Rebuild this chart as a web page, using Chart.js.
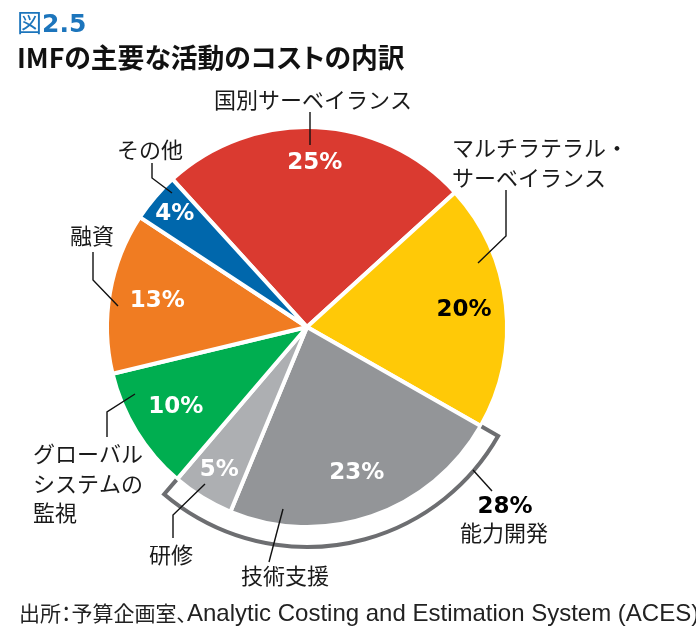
<!DOCTYPE html>
<html>
<head>
<meta charset="utf-8">
<script src="https://cdn.jsdelivr.net/npm/chart.js@4.4.1/dist/chart.umd.min.js"></script>
<style>
  body { margin: 0; background: #fff; width: 696px; height: 631px; overflow: hidden; position: relative; font-family: "Noto Sans CJK JP", sans-serif; }
  #wrap { position: absolute; left: 0; top: 0; width: 696px; height: 631px; }
  .fig { position: absolute; left: 17px; top: 8px; font-size: 25px; line-height: 26px; color: #1c75bc; white-space: nowrap; }
  .fig b { font-family: "DejaVu Sans", sans-serif; font-weight: 700; font-size: 25px; }
  .ttl { position: absolute; left: 17px; top: 43px; font-size: 26.8px; line-height: 27px; font-weight: 700; color: #111; white-space: nowrap; font-feature-settings: "palt"; }
  .src { position: absolute; left: 19px; top: 600px; font-size: 21px; line-height: 24px; color: #222; white-space: nowrap; font-feature-settings: "palt"; }
  .src span { font-family: "Liberation Sans", sans-serif; font-size: 24px; }
</style>
</head>
<body>
<div id="wrap"><canvas id="pie"></canvas></div>
<div class="fig">図<b>2.5</b></div>
<div class="ttl">IMFの主要な活動のコストの内訳</div>
<div class="src">出所：予算企画室、<span>Analytic Costing and Estimation System (ACES)</span></div>
<script>
// categories (clockwise from the top-left)
const categories = ["国別サーベイランス", "マルチラテラル・サーベイランス", "技術支援", "研修", "グローバルシステムの監視", "融資", "その他"];
const shares = [25, 20, 23, 5, 10, 13, 4];
const pctLabels = ["25%", "20%", "23%", "5%", "10%", "13%", "4%"];

// 能力開発 = 技術支援 + 研修
const groupSlices = [2, 3];
const groupShare = "28%";
const groupName = "能力開発";

// styles
const sliceColors = ["#da3a30", "#ffc907", "#939598", "#adafb2", "#00ae50", "#f07c22", "#0067ac"];
const pctColors = ["#fff", "#000", "#fff", "#fff", "#fff", "#fff", "#fff"];
const pctRadius = [0.82, 0.79, 0.77, 0.84, 0.77, 0.76, 0.87];
const pctFont = "700 23px 'DejaVu Sans', sans-serif";
const labelFont = "22px 'Noto Sans CJK JP', sans-serif";

// callout layout, offsets from the pie centre in px
const callouts = [
  { lines: ["国別サーベイランス"], x: 6, y: -227, align: "center", path: [[3, -215], [3, -182]] },
  { lines: ["マルチラテラル・", "サーベイランス"], x: 145, y: -179, align: "left", path: [[199, -137], [199, -91], [171, -64]] },
  { lines: ["技術支援"], x: -22, y: 249, align: "center", path: [[-38, 235], [-24, 182]] },
  { lines: ["研修"], x: -136, y: 228, align: "center", path: [[-134, 211], [-134, 188], [-102, 157]] },
  { lines: ["グローバル", "システムの", "監視"], x: -274, y: 127, align: "left", path: [[-200, 110], [-200, 85], [-172, 67]] },
  { lines: ["融資"], x: -215, y: -91, align: "center", path: [[-214, -75], [-214, -47], [-189, -21]] },
  { lines: ["その他"], x: -157, y: -177, align: "center", path: [[-155, -164], [-155, -149], [-135, -134]] }
];

const pieDecor = {
  id: "pieDecor",
  afterDatasetsDraw(chart) {
    const c = chart.ctx;
    const arcs = chart.getDatasetMeta(0).data;
    const cx = arcs[0].x, cy = arcs[0].y, R = arcs[0].outerRadius;

    // percentages inside slices
    c.save();
    c.textAlign = "center";
    c.textBaseline = "middle";
    c.font = pctFont;
    arcs.forEach((a, i) => {
      const mid = (a.startAngle + a.endAngle) / 2;
      const r = R * pctRadius[i];
      c.fillStyle = pctColors[i];
      c.fillText(pctLabels[i], cx + Math.cos(mid) * r, cy + Math.sin(mid) * r);
    });
    c.restore();

    // bracket around 技術支援 + 研修
    const a0 = arcs[groupSlices[0]].startAngle;
    const a1 = arcs[groupSlices[groupSlices.length - 1]].endAngle;
    const rIn = R + 1, rOut = R + 20;
    c.save();
    c.strokeStyle = "#6d6e71";
    c.lineWidth = 4;
    c.lineJoin = "miter";
    c.beginPath();
    c.moveTo(cx + Math.cos(a0) * rIn, cy + Math.sin(a0) * rIn);
    c.lineTo(cx + Math.cos(a0) * rOut, cy + Math.sin(a0) * rOut);
    c.arc(cx, cy, rOut, a0, a1);
    c.lineTo(cx + Math.cos(a1) * rIn, cy + Math.sin(a1) * rIn);
    c.stroke();
    c.restore();

    // callouts
    c.save();
    c.strokeStyle = "#111";
    c.lineWidth = 1.4;
    c.fillStyle = "#1a1a1a";
    c.textBaseline = "middle";
    c.font = labelFont;
    callouts.forEach(co => {
      c.beginPath();
      co.path.forEach((p, k) => k ? c.lineTo(cx + p[0], cy + p[1]) : c.moveTo(cx + p[0], cy + p[1]));
      c.stroke();
      c.textAlign = co.align;
      co.lines.forEach((t, k) => c.fillText(t, cx + co.x, cy + co.y + k * 29.5));
    });

    // 28% 能力開発
    c.beginPath();
    c.moveTo(cx + 185, cy + 164);
    c.lineTo(cx + 166, cy + 143);
    c.stroke();
    c.textAlign = "center";
    c.fillStyle = "#000";
    c.font = pctFont;
    c.fillText(groupShare, cx + 198, cy + 180);
    c.fillStyle = "#1a1a1a";
    c.font = labelFont;
    c.fillText(groupName, cx + 197, cy + 206);
    c.restore();
  }
};

new Chart(document.getElementById("pie"), {
  type: "pie",
  data: {
    labels: categories,
    datasets: [{
      data: shares,
      backgroundColor: sliceColors,
      borderColor: "#fff",
      borderWidth: 4,
      hoverBorderWidth: 4,
      hoverOffset: 0
    }]
  },
  options: {
    responsive: true,
    maintainAspectRatio: false,
    animation: false,
    events: [],
    rotation: -42.3,
    radius: 200,
    layout: { padding: { left: 0, right: 82, top: 23, bottom: 0 } },
    plugins: {
      legend: { display: false },
      tooltip: { enabled: false }
    }
  },
  plugins: [pieDecor]
});
</script>
</body>
</html>
